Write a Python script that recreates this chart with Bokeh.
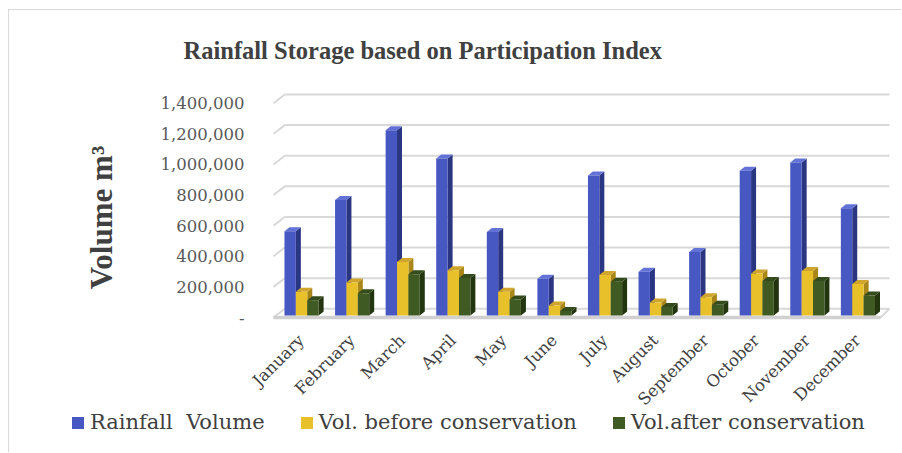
import math
from bokeh.plotting import figure
from bokeh.models import Range1d, FixedTicker, Legend, LegendItem
from bokeh.embed import file_html
from bokeh.resources import INLINE

# ---------------- data ----------------
months = ["January", "February", "March", "April", "May", "June", "July",
          "August", "September", "October", "November", "December"]
rainfall_volume = [550000, 755000, 1210000, 1025000, 545000, 240000, 915000,
                   285000, 415000, 945000, 1000000, 700000]
vol_before = [155000, 215000, 350000, 295000, 155000, 65000, 265000,
              85000, 120000, 275000, 290000, 205000]
vol_after = [100000, 145000, 270000, 245000, 105000, 30000, 220000,
             55000, 70000, 225000, 225000, 130000]
series_names = ["Rainfall  Volume", "Vol. before conservation", "Vol.after conservation"]
y_ticks = [0, 200000, 400000, 600000, 800000, 1000000, 1200000, 1400000]

# ---------------- layout (pixels) ----------------
W, H = 893, 443
FL, FR, FT, FB = 0, 10, 78, 2            # frame borders inside the canvas
frame_w = W - FL - FR
frame_h = H - FT - FB
px_per_cat = 50.58                       # horizontal pixels per month
px_per_val = 214.3 / 1400000.0           # vertical pixels per m3
origin_px = (264, 229)                   # chart (0, 0) in px from frame left / top
x_start = -origin_px[0] / px_per_cat
x_end = x_start + frame_w / px_per_cat
y_end = origin_px[1] / px_per_val
y_start = y_end - frame_h / px_per_val

def dx(px):
    return px / px_per_cat

def dy(px):
    return px / px_per_val

p = figure(width=W, height=H, x_range=Range1d(x_start, x_end), y_range=Range1d(y_start, y_end),
           output_backend="svg", toolbar_location=None,
           min_border_left=FL, min_border_right=FR, min_border_top=FT, min_border_bottom=FB)
p.styles = {"margin-left": "8px", "margin-top": "9px",
            "border-left": "1px solid #d9d9d9", "border-top": "1px solid #d9d9d9"}
p.outline_line_color = None
p.xgrid.visible = False
p.ygrid.visible = False
p.background_fill_color = "white"
p.border_fill_color = "white"

# ---------------- walls / gridlines ----------------
wall_dx, wall_dy = dx(11.3), dy(8.7)
right_dx = dx(9)
n = len(months)
grid_color = "#d9d9d9"
p.multi_line(xs=[[0, wall_dx, n + right_dx] for t in y_ticks[1:]],
             ys=[[t, t + wall_dy, t + wall_dy] for t in y_ticks[1:]],
             line_color=grid_color, line_width=2)
p.patch(x=[0, n, n + right_dx, wall_dx], y=[0, 0, wall_dy, wall_dy],
        fill_color="white", line_color=grid_color, line_width=2)
p.line(x=[0, n], y=[0, 0], line_color="#d0d0d0", line_width=3.5)

# ---------------- 3D bars ----------------
bw = 0.225
offsets = [0.217, 0.442, 0.667]
base = dy(2)
bdx, bdy = dx(5), dy(4)
colors = [
    ("#4858C2", "#6272D6", "#2B3683"),
    ("#E8C02A", "#CFA52E", "#A88618"),
    ("#3F5A22", "#344B1C", "#22350F"),
]
front_renderers = []
for k, vals in enumerate([rainfall_volume, vol_before, vol_after]):
    fc, tc, sc = colors[k]
    x0 = [i + offsets[k] for i in range(n)]
    x1 = [a + bw for a in x0]
    top = [base + v for v in vals]
    p.patches(xs=[[b, b + bdx, b + bdx, b] for b in x1],
              ys=[[base, base + bdy, t + bdy, t] for t in top],
              fill_color=sc, line_color=None)
    p.patches(xs=[[a, b, b + bdx, a + bdx] for a, b in zip(x0, x1)],
              ys=[[t, t, t + bdy, t + bdy] for t in top],
              fill_color=tc, line_color=None)
    r = p.quad(left=x0, right=x1, bottom=base, top=top, fill_color=fc, line_color=None)
    front_renderers.append(r)

# ---------------- axes (labels drawn back into the canvas) ----------------
label_font = "DejaVu Serif"
p.yaxis.ticker = FixedTicker(ticks=y_ticks)
p.yaxis.major_label_overrides = {t: (f"{t:,}" if t else "-") for t in y_ticks}
p.yaxis.major_label_text_font = label_font
p.yaxis.major_label_text_font_size = "16.5px"
p.yaxis.major_label_text_color = "#595959"
p.yaxis.axis_line_color = None
p.yaxis.major_tick_line_color = None
p.yaxis.minor_tick_line_color = None
p.yaxis.major_tick_out = 0
p.yaxis.major_label_standoff = -(origin_px[0] - 29)

xt = [i + 0.55 for i in range(n)]
p.xaxis.ticker = FixedTicker(ticks=xt)
p.xaxis.major_label_overrides = {t: m for t, m in zip(xt, months)}
p.xaxis.major_label_orientation = math.pi / 4
p.xaxis.major_label_text_font = label_font
p.xaxis.major_label_text_font_size = "16.5px"
p.xaxis.major_label_text_color = "#404040"
p.xaxis.axis_line_color = None
p.xaxis.major_tick_line_color = None
p.xaxis.minor_tick_line_color = None
p.xaxis.major_tick_out = 0
p.xaxis.major_label_standoff = -(frame_h - origin_px[1] - 20)

# y axis title as rotated text
p.text(x=[dx(92 - origin_px[0])], y=[dy(origin_px[1] - (207 - FT))],
       text=["Volume m³"], angle=math.pi / 2, text_align="center", text_baseline="middle",
       text_font="Liberation Serif", text_font_style="bold", text_font_size="31px",
       text_color="#404040")

# ---------------- title ----------------
p.title.text = "Rainfall Storage based on Participation Index"
p.title.text_font = "Liberation Serif"
p.title.text_font_style = "bold"
p.title.text_font_size = "24.5px"
p.title.text_color = "#404040"
p.title.align = "left"
p.title.offset = 174
p.title.standoff = 49

# ---------------- legend ----------------
legend = Legend(items=[LegendItem(label=nm, renderers=[r]) for nm, r in zip(series_names, front_renderers)],
                orientation="horizontal", location=(61, 17),
                label_text_font=label_font, label_text_font_size="21px", label_text_color="#404040",
                glyph_width=15, glyph_height=15, label_standoff=5, spacing=34,
                padding=0, margin=0, border_line_color=None, background_fill_alpha=0)
p.add_layout(legend)

open("out.html", "w").write(file_html(p, INLINE))
